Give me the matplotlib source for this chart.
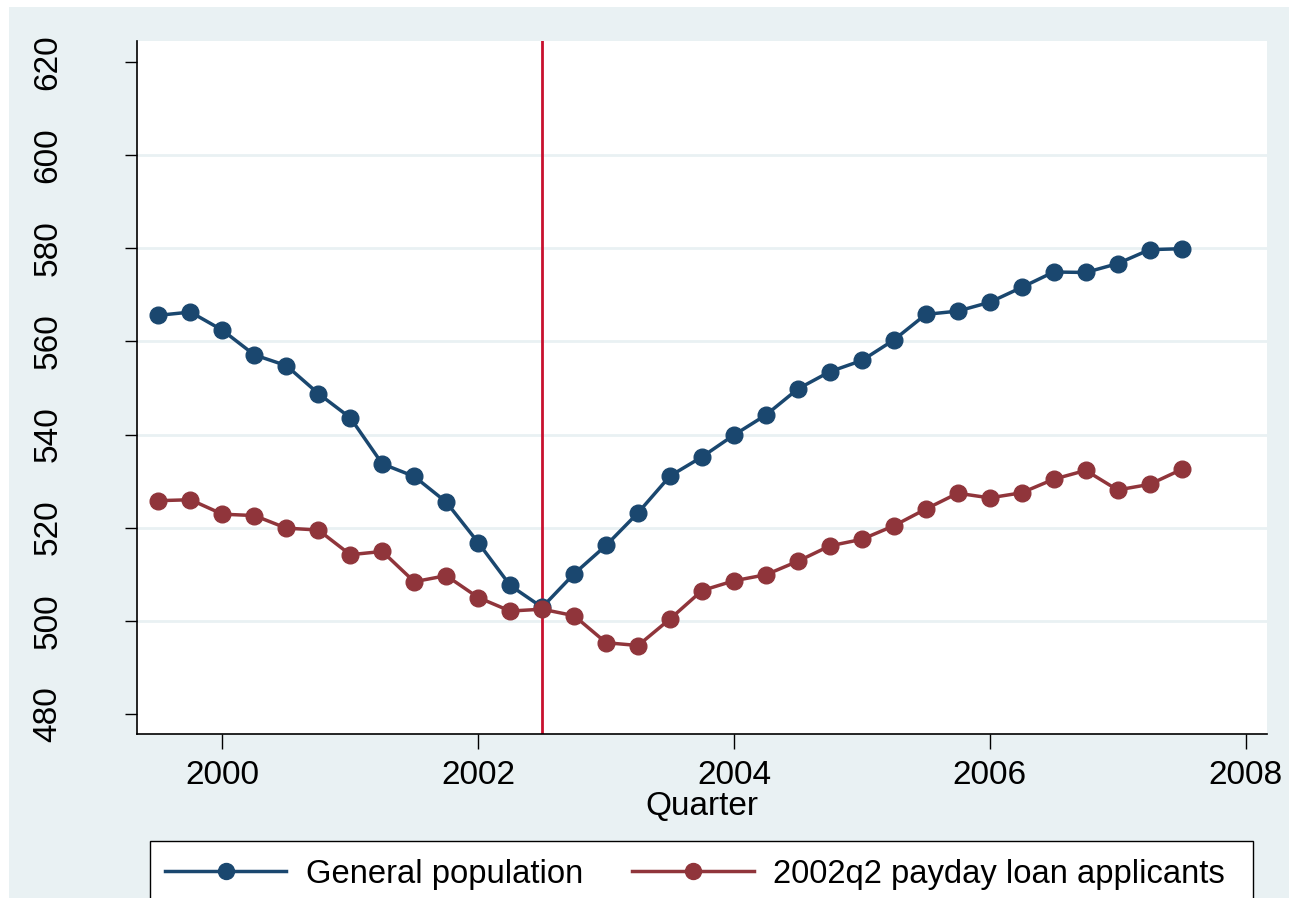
import matplotlib
matplotlib.use("Agg")
import matplotlib.pyplot as plt
from matplotlib.patches import Rectangle
from matplotlib.lines import Line2D

plt.rcParams['font.family'] = ['Liberation Sans', 'DejaVu Sans']

# quarters 1999q3 .. 2007q3 as decimal years
quarters = [1999.5 + 0.25 * i for i in range(33)]

general_population = [
    565.6, 566.3, 562.4, 557.1, 554.8, 548.8, 543.6, 533.7, 531.0, 525.5,
    516.8, 507.6, 502.9, 510.1, 516.2, 523.2, 531.1, 535.2, 539.9, 544.2,
    549.8, 553.5, 555.9, 560.3, 565.8, 566.5, 568.4, 571.6, 574.9, 574.8,
    576.7, 579.7, 579.9,
]
payday_applicants = [
    525.8, 526.0, 522.9, 522.6, 519.9, 519.5, 514.2, 514.9, 508.4, 509.7,
    505.0, 502.1, 502.5, 501.1, 495.3, 494.7, 500.4, 506.5, 508.6, 509.9,
    512.8, 516.1, 517.5, 520.4, 524.0, 527.4, 526.4, 527.5, 530.4, 532.3,
    528.1, 529.3, 532.5,
]
series_labels = ["General population", "2002q2 payday loan applicants"]
x_ticks = [2000, 2002, 2004, 2006, 2008]
y_ticks = [480, 500, 520, 540, 560, 580, 600, 620]
grid_levels = [500, 520, 540, 560, 580, 600]
event_x = 2002.5
x_label = "Quarter"

W, H = 1289, 898
BG = "#E9F1F3"
BLUE = "#1A476F"
RED = "#90353B"
VLINE = "#C8102E"
FS = 24
LFS = 23.6

fig = plt.figure(figsize=(W / 100, H / 100), dpi=100, facecolor="white")
fig.patches.append(Rectangle((9 / W, 0), 1, (H - 7) / H, transform=fig.transFigure,
                             facecolor=BG, edgecolor="none", zorder=-10))

ax = fig.add_axes([137 / W, (H - 734) / H, (1267 - 137) / W, (734 - 41) / H])
ax.set_facecolor("white")
ax.set_xlim(1999.332, 2008.168)
ax.set_ylim(475.7, 624.5)

for g in grid_levels:
    ax.axhline(g, color=BG, lw=2.0, zorder=1)
ax.axvline(event_x, color=VLINE, lw=2.0, zorder=2)

ax.plot(quarters, general_population, color=BLUE, lw=2.5, marker="o", ms=12,
        zorder=3, label=series_labels[0])
ax.plot(quarters, payday_applicants, color=RED, lw=2.5, marker="o", ms=12,
        zorder=4, label=series_labels[1])

for s in ["top", "right"]:
    ax.spines[s].set_visible(False)
for s in ["left", "bottom"]:
    ax.spines[s].set_linewidth(1.2)
    ax.spines[s].set_color("black")

ax.set_xticks(x_ticks)
ax.set_yticks(y_ticks)
ax.tick_params(axis="x", direction="out", length=10.5, width=1.0, pad=8, labelsize=FS)
ax.tick_params(axis="y", direction="out", length=9, width=1.0, pad=44, labelsize=FS)
for lab in ax.get_yticklabels():
    lab.set_rotation(90)
    lab.set_va("center")
ax.set_xlabel(x_label, fontsize=FS, labelpad=0)

# legend frame
fig.patches.append(Rectangle((150 / W, -0.05), (1253 - 150) / W, 0.05 + (H - 841) / H,
                             transform=fig.transFigure, facecolor="white",
                             edgecolor="black", lw=1.0, zorder=5))
handles = [
    Line2D([], [], color=BLUE, lw=2.5, marker="o", ms=11.5),
    Line2D([], [], color=RED, lw=2.5, marker="o", ms=11.5),
]
leg = fig.legend(handles, series_labels, loc="center left",
                 bbox_to_anchor=(165 / W, (H - 874) / H), ncol=2, frameon=False,
                 fontsize=LFS, handlelength=3.7, handletextpad=0.6,
                 columnspacing=1.5, borderpad=0, borderaxespad=0, numpoints=1)
leg.set_zorder(6)

fig.savefig("out.png", dpi=100, facecolor="white")
